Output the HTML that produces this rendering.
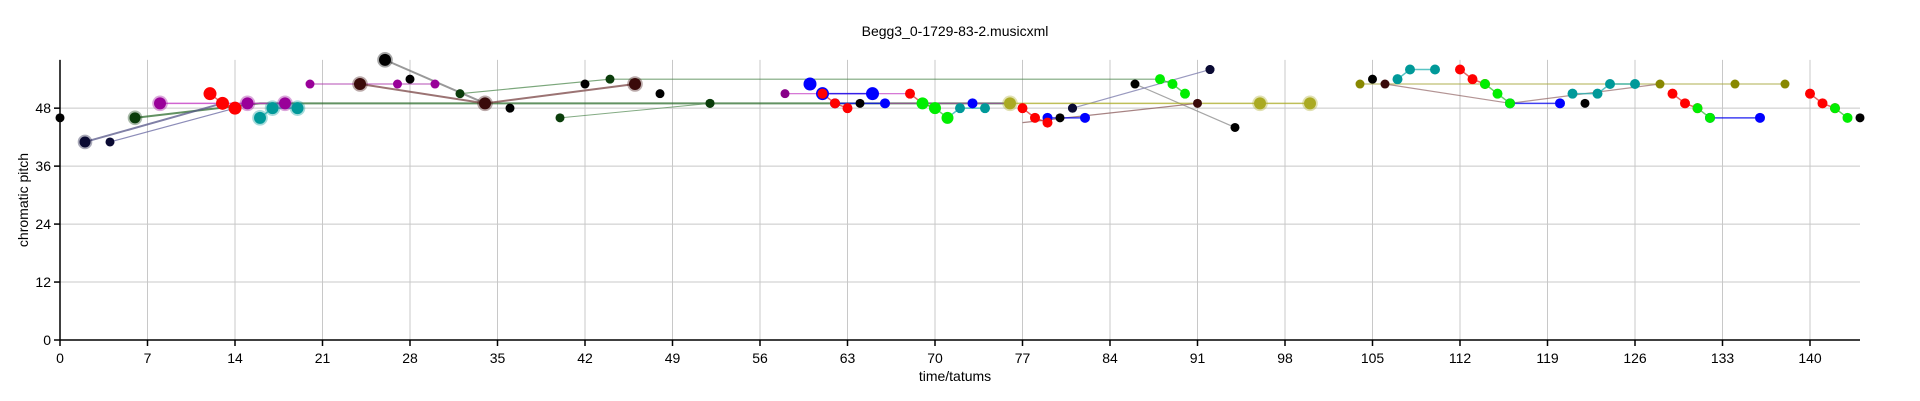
<!DOCTYPE html>
<html><head><meta charset="utf-8"><style>
html,body{margin:0;padding:0;background:#fff;}
svg{display:block;font-family:"Liberation Sans",Arial,sans-serif;}
</style></head><body>
<svg id="chart" width="1920" height="401" viewBox="0 0 1920 401">
<text x="955" y="36" text-anchor="middle" font-size="14">Begg3_0-1729-83-2.musicxml</text>
<g id="grid"></g>
<g id="lines"></g>
<g id="marks"></g>
<g id="axes"></g>
<text x="955" y="381" text-anchor="middle" font-size="14">time/tatums</text>
<text transform="translate(28,200) rotate(-90)" text-anchor="middle" font-size="14">chromatic pitch</text>
</svg>
<script>
const xTicks=[0,7,14,21,28,35,42,49,56,63,70,77,84,91,98,105,112,119,126,133,140];
const yTicks=[0,12,24,36,48];
// series: [name, color, radius, halo, drawLine, times, pitches]
const blackT=[0,28,36,42,48,64,80,105,122,144,94];
const blackP=[46,54,48,53,51,49,46,54,49,46,44];
const navyAT=[2,13];const navyAP=[41,49];
const navyBT=[4,14];const navyBP=[41,48];
const navyCT=[81,92];const navyCP=[48,56];
const dgreenAT=[6,16,52,76];const dgreenAP=[46,49,49,49];
const dgreenBT=[40,52];const dgreenBP=[46,49];
const lgreenT=[32,44,88];const lgreenP=[51,54,54];
const greyAT=[26,34];const greyAP=[58,49];
const greyBT=[86,94];const greyBP=[53,44];
const magAT=[8,15,18];const magAP=[49,49,49];
const magBT=[20,27,30];const magBP=[53,53,53];
const magCT=[58,68];const magCP=[51,51];
const magDT=[66,76];const magDP=[49,49];
const brownAT=[24,34,46];const brownAP=[53,49,53];
const brownBT=[77,91];const brownBP=[45,49];
const brownCT=[106,116,128];const brownCP=[53,49,53];
const redT=[[12,13,14],[61,62,63],[68,69,70],[77,78,79],[112,113,114],[129,130,131],[140,141,142]];
const redP=[[51,49,48],[51,49,48],[51,49,48],[48,46,45],[56,54,53],[51,49,48],[51,49,48]];
const tealT=[[16,17,19],[71,72,74],[107,108,110],[121,123,124,126]];
const tealP=[[46,48,48],[46,48,48],[54,56,56],[51,51,53,53]];
const blueT=[[60],[61,65],[62,66],[73],[79,82],[116,120],[132,136]];
const blueP=[[53],[51,51],[49,49],[49],[46,46],[49,49],[46,46]];
const greenT=[[69,70,71],[88,89,90],[114,115,116],[131,132],[142,143]];
const greenP=[[49,48,46],[54,53,51],[53,51,49],[48,46],[48,46]];
const oliveAT=[76,96,100];const oliveAP=[49,49,49];
const oliveBT=[104,128,134,138];const oliveBP=[53,53,53,53];

const X0=60,XS=12.5,Y0=340,YS=4.83,XMAX=144,YMAX=58;
const xs=t=>X0+t*XS, ys=p=>Y0-p*YS;
const NS='http://www.w3.org/2000/svg';
function mk(tag,attrs,parent){const e=document.createElementNS(NS,tag);for(const k in attrs)e.setAttribute(k,attrs[k]);parent.appendChild(e);return e;}
const grid=document.getElementById('grid'),axes=document.getElementById('axes'),lines=document.getElementById('lines'),marks=document.getElementById('marks');
xTicks.forEach(t=>{
 const g=mk('line',{x1:xs(t),x2:xs(t),y1:ys(0),y2:ys(YMAX),stroke:'#c8c8c8','stroke-width':1},grid);
 
 
 const tk=mk('line',{x1:xs(t),x2:xs(t),y1:Y0,y2:Y0+6,stroke:'#000','stroke-width':1.5},axes);
 
 
 const l=mk('text',{x:xs(t),y:Y0+23,'text-anchor':'middle','font-size':14},axes);l.textContent=t;
 
 
});
yTicks.forEach(p=>{
 const g=mk('line',{x1:X0,x2:xs(XMAX),y1:ys(p),y2:ys(p),stroke:'#c8c8c8','stroke-width':1},grid);
 
 
 const tk=mk('line',{x1:X0-6,x2:X0,y1:ys(p),y2:ys(p),stroke:'#000','stroke-width':1.5},axes);
 
 
 const l=mk('text',{x:X0-9,y:ys(p)+5,'text-anchor':'end','font-size':14},axes);l.textContent=p;
 
 
});
const xa=mk('line',{x1:X0,x2:xs(XMAX),y1:Y0,y2:Y0,stroke:'#000','stroke-width':1.5},axes);


const ya=mk('line',{x1:X0,x2:X0,y1:Y0,y2:ys(YMAX),stroke:'#000','stroke-width':1.5},axes);



function series(T,P,color,lineColor,r,halo,lw,name){
 if(lineColor&&T.length>1){
  const pts=T.map((t,i)=>xs(t)+','+ys(P[i])).join(' ');
  const pl=mk('polyline',{points:pts,fill:'none',stroke:lineColor,'stroke-width':lw,'stroke-opacity':0.75},lines);
  
  
 }
 if(r>0)T.forEach((t,i)=>{
  if(halo){const h=mk('circle',{cx:xs(t),cy:ys(P[i]),r:r+1.8,fill:color,'fill-opacity':0.35},marks);
   
   }
  const c=mk('circle',{cx:xs(t),cy:ys(P[i]),r:r,fill:color},marks);
  
  
 });
}
series(dgreenAT,dgreenAP,'#0b3d0b','#2e6e2e',0,false,2,'dark-green');
series(dgreenBT,dgreenBP,'#0b3d0b','#5a8f5a',4.5,false,1,'dark-green');
series([6],[46],'#0b3d0b',null,5.5,true,1,'dark-green');
series([52,44,32],[49,54,51],'#0b3d0b',null,4.5,false,1,'dark-green');
series(lgreenT,lgreenP,'#0b3d0b','#4f8a4f',0,false,1.2,'light-green');
series(greyAT,greyAP,'#000','#777',0,false,2,'grey');
series(greyBT,greyBP,'#000','#888',0,false,1.2,'grey');
series(navyAT,navyAP,'#0a0a33','#555588',0,false,2,'navy');
series(navyBT,navyBP,'#0a0a33','#6666a0',0,false,1.2,'navy');
series(navyCT,navyCP,'#0a0a33','#7777aa',4.5,false,1.2,'navy');
series([2],[41],'#0a0a33',null,5.5,true,1,'navy');
series([4],[41],'#0a0a33',null,4.5,false,1,'navy');
series(magAT,magAP,'#c030c0','#c030c0',0,false,1.5,'magenta');
series(magBT,magBP,'#990099','#b040b0',4.5,false,1.2,'magenta');
series(magCT,magCP,'#990099','#c030c0',0,false,1.2,'magenta');
series(magDT,magDP,'#990099','#a040a0',0,false,1.2,'magenta');
series([8,15,18],[49,49,49],'#990099',null,6,true,1,'purple');
series([58],[51],'#880088',null,4.5,false,1,'purple');
series(oliveAT,oliveAP,'#999900','#aaaa22',0,false,1.5,'olive');
series(oliveBT,oliveBP,'#888800','#aaaa44',4.5,false,1.2,'olive');
series([76,96,100],[49,49,49],'#aaaa22',null,6,true,1,'olive');
series(brownAT,brownAP,'#3a0a0a','#7a4444',0,false,2,'brown');
series(brownBT,brownBP,'#3a0a0a','#8a5a5a',0,false,1.2,'brown');
series(brownCT,brownCP,'#3a0a0a','#9a7070',0,false,1.2,'brown');
series([24,34,46],[53,49,53],'#3a0a0a',null,6,true,1,'brown');
series([91,106],[49,53],'#3a0a0a',null,4.5,false,1,'brown');
series([26],[58],'#000',null,6,true,1,'black');
series(blackT,blackP,'#000',null,4.5,false,1,'black');
series([86],[53],'#000',null,4.5,false,1,'black');
series([81],[48],'#0a0a33',null,4.5,false,1,'navy');
series([92],[56],'#0a0a33',null,4.5,false,1,'navy');
tealT.forEach((T,i)=>series(T,tealP[i],'#009999','#20b0b0',i==0?6:5,i==0,1.5,'teal'));
blueT.forEach((T,i)=>series(T,blueP[i],'#0000ff','#0000ee',(i<2)?6.5:5,false,1.5,'blue'));
redT.forEach((T,i)=>series(T,redP[i],'#ff0000','#e03030',i==0?6.5:5,false,1.5,'red'));
greenT.forEach((T,i)=>series(T,greenP[i],'#00ee00','#30c030',i==0?6:5,false,1.5,'green'));
</script>
</body></html>
